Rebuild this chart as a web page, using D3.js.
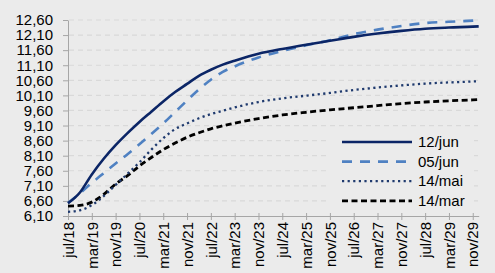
<!DOCTYPE html>
<html>
<head>
<meta charset="utf-8">
<script src="https://cdn.jsdelivr.net/npm/d3@7"></script>
<style>
  body { margin: 0; background: #ebebeb; }
  svg { display: block; font-family: "Liberation Sans", Arial, sans-serif; }
</style>
</head>
<body>
<script>
var width = 495, height = 273;

// meses desde jul/18
var months = [0, 4, 8, 12, 16, 20, 24, 28, 32, 36, 40, 44, 48, 52, 56, 64, 72, 80, 88, 96, 104, 112, 120, 128, 136, 138];

var jun12 = [6.52, 6.88, 7.48, 8.00, 8.45, 8.85, 9.22, 9.56, 9.90, 10.21, 10.48, 10.75, 10.95, 11.12, 11.25, 11.48, 11.64, 11.78, 11.91, 12.04, 12.15, 12.24, 12.31, 12.35, 12.38, 12.39];
var jun05 = [6.54, 6.85, 7.20, 7.52, 7.84, 8.15, 8.48, 8.82, 9.17, 9.55, 9.93, 10.30, 10.62, 10.88, 11.06, 11.36, 11.57, 11.76, 11.93, 12.13, 12.28, 12.40, 12.50, 12.54, 12.58, 12.59];
var mai14 = [6.24, 6.29, 6.46, 6.76, 7.13, 7.50, 7.88, 8.30, 8.68, 8.98, 9.17, 9.34, 9.48, 9.59, 9.70, 9.88, 10.00, 10.09, 10.18, 10.28, 10.36, 10.43, 10.49, 10.53, 10.56, 10.57];
var mar14 = [6.43, 6.45, 6.56, 6.82, 7.16, 7.44, 7.76, 8.04, 8.30, 8.52, 8.71, 8.86, 8.99, 9.09, 9.18, 9.33, 9.45, 9.54, 9.62, 9.69, 9.76, 9.83, 9.88, 9.92, 9.95, 9.96];

var seriesNames = ["12/jun", "05/jun", "14/mai", "14/mar"];

var xTickLabels = ["jul/18", "mar/19", "nov/19", "jul/20", "mar/21", "nov/21", "jul/22", "mar/23", "nov/23",
                   "jul/24", "mar/25", "nov/25", "jul/26", "mar/27", "nov/27", "jul/28", "mar/29", "nov/29"];
var yTicks = [6.10, 6.60, 7.10, 7.60, 8.10, 8.60, 9.10, 9.60, 10.10, 10.60, 11.10, 11.60, 12.10, 12.60];

var estilos = [
  {color: "#0b2566", w: 2.6, dash: null},
  {color: "#4f81c2", w: 2.6, dash: "10,8"},
  {color: "#1f3a6e", w: 2.3, dash: "2.2,3.4"},
  {color: "#000000", w: 2.8, dash: "6,3.5"}
];

var data = [jun12, jun05, mai14, mar14].map(function(vals, i) {
  return {name: seriesNames[i], style: estilos[i],
          values: vals.map(function(v, j) { return {m: months[j], v: v}; })};
});

var svg = d3.select("body").append("svg")
  .attr("width", width)
  .attr("height", height);

var x = d3.scaleLinear().domain([0, 138]).range([68, 478.7]);
var y = d3.scaleLinear().domain([6.10, 12.60]).range([216, 20]);

var br = d3.formatLocale({decimal: ",", thousands: ".", grouping: [3], currency: ["R$", ""]});
var fmt = br.format(".2f");

// grade
svg.append("g").selectAll("line")
  .data(yTicks.slice(1))
  .enter().append("line")
  .attr("x1", 69).attr("x2", 478)
  .attr("y1", function(d) { return y(d); })
  .attr("y2", function(d) { return y(d); })
  .attr("stroke", "#d9d9d9")
  .attr("stroke-width", 1.2)
  .attr("stroke-dasharray", "5,4");

// eixo y
var yAxis = svg.append("g")
  .attr("transform", "translate(68,0)")
  .call(d3.axisLeft(y).tickValues(yTicks).tickFormat(fmt).tickSize(5).tickSizeOuter(0).tickPadding(10));
yAxis.select(".domain").attr("stroke", "#a6a6a6");
yAxis.selectAll(".tick line").attr("stroke", "#a6a6a6");
yAxis.selectAll("text").attr("font-size", "15px").attr("fill", "#000")
  .style("font-family", "'Liberation Sans', Arial, sans-serif");

// eixo x
var xTicks = xTickLabels.map(function(d, i) { return i * 8; });
var xAxis = svg.append("g")
  .attr("transform", "translate(0,216)")
  .call(d3.axisBottom(x).tickValues(xTicks)
    .tickFormat(function(d) { return xTickLabels[d / 8]; })
    .tickSize(4).tickSizeOuter(0));
xAxis.select(".domain").attr("stroke", "#a6a6a6");
xAxis.selectAll(".tick line").attr("stroke", "#a6a6a6").attr("y1", -3);
xAxis.selectAll("text")
  .attr("font-size", "15px").attr("fill", "#000")
  .style("font-family", "'Liberation Sans', Arial, sans-serif")
  .attr("transform", "rotate(-90)")
  .attr("x", -6).attr("y", 0).attr("dy", "0.35em")
  .style("text-anchor", "end");

// linhas
var line = d3.line()
  .x(function(d) { return x(d.m); })
  .y(function(d) { return y(d.v); })
  .curve(d3.curveMonotoneX);

svg.append("g").selectAll("path")
  .data(data.slice().reverse())
  .enter().append("path")
  .attr("d", function(d) { return line(d.values); })
  .attr("fill", "none")
  .attr("stroke", function(d) { return d.style.color; })
  .attr("stroke-width", function(d) { return d.style.w; })
  .attr("stroke-dasharray", function(d) { return d.style.dash; });

// legenda
var leg = svg.append("g");
leg.append("rect")
  .attr("x", 330).attr("y", 132).attr("width", 142).attr("height", 78)
  .attr("fill", "#ebebeb");
var item = leg.selectAll("g.item")
  .data(data)
  .enter().append("g")
  .attr("class", "item")
  .attr("transform", function(d, i) { return "translate(0," + (142 + i * 19.6) + ")"; });
item.append("line")
  .attr("x1", 342).attr("x2", 412)
  .attr("stroke", function(d) { return d.style.color; })
  .attr("stroke-width", function(d) { return d.style.w; })
  .attr("stroke-dasharray", function(d) { return d.style.dash; });
item.append("text")
  .attr("x", 418).attr("dy", "0.35em")
  .attr("font-size", "15px")
  .text(function(d) { return d.name; });
</script>
</body>
</html>
